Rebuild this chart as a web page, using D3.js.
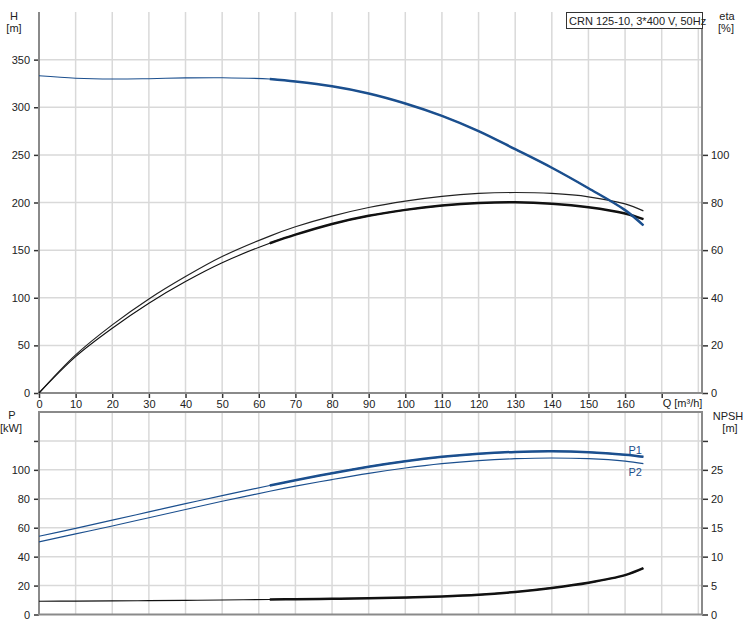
<!DOCTYPE html>
<html><head><meta charset="utf-8">
<script src="https://cdn.jsdelivr.net/npm/d3@7"></script>
<style>
body{margin:0;background:#fff;}
svg{display:block;font-family:"Liberation Sans",Arial,sans-serif;}
.tick text{font-size:11px;fill:#222;}
</style></head>
<body>
<script>
// ---- data ----
const title = "CRN 125-10, 3*400 V, 50Hz";
const qs      = [0, 10, 20, 30, 40, 50, 63, 70, 80, 90, 100, 110, 120, 130, 140, 150, 160, 165];
const head    = [333, 330.5, 329.6, 330, 330.8, 331, 329.6, 327, 322, 314.5, 304, 291, 275, 256, 236.5, 215, 192, 176];
const etaA    = [0, 16, 28.6, 39.5, 48.9, 57.3, 65.9, 69.8, 74.3, 77.9, 80.6, 82.6, 83.8, 84.2, 83.8, 82.4, 79.4, 76.5];
const etaB    = [0, 15.3, 27.2, 37.7, 46.8, 54.7, 62.9, 66.5, 71.0, 74.4, 76.9, 78.7, 79.8, 80.1, 79.5, 78.0, 75.4, 73.0];
const powerP1 = [54.1, 59.6, 65.2, 70.9, 76.6, 82.2, 89.2, 92.8, 97.7, 102.2, 106.0, 109.0, 111.1, 112.4, 112.8, 112.2, 110.4, 109];
const powerP2 = [50.2, 55.7, 61.2, 66.9, 72.6, 78.3, 85.2, 88.7, 93.3, 97.6, 101.3, 104.3, 106.4, 107.7, 108.2, 107.7, 106, 104.3];
const npsh    = [2.3, 2.32, 2.35, 2.4, 2.45, 2.5, 2.6, 2.65, 2.72, 2.8, 2.92, 3.1, 3.4, 3.9, 4.6, 5.5, 6.8, 8.0];
const qTicks   = [0, 10, 20, 30, 40, 50, 60, 70, 80, 90, 100, 110, 120, 130, 140, 150, 160, 170];
const qGrid    = [10, 20, 30, 40, 50, 60, 70, 80, 90, 100, 110, 120, 130, 140, 150, 160, 170, 180];
const hTicks   = [0, 50, 100, 150, 200, 250, 300, 350];
const etaTicks = [0, 20, 40, 60, 80, 100];
const pTicks   = [0, 20, 40, 60, 80, 100, 120];
const npshTicks= [0, 5, 10, 15, 20, 25, 30];
const qUnit = "Q [m³/h]";
const opStart = 63; // start of the bold (operating) part

// ---- layout ----
const W = 750, H = 628;
const svg = d3.select("body").append("svg").attr("width", W).attr("height", H);
const x = d3.scaleLinear().domain([0, 181]).range([39, 702]);
const yH = d3.scaleLinear().domain([0, 400]).range([393, 12]);
const yEta = d3.scaleLinear().domain([0, 160]).range([393, 12]);
const yP = d3.scaleLinear().domain([0, 140]).range([614.5, 412]);
const yN = d3.scaleLinear().domain([0, 35]).range([614.5, 412]);

const gridC = "#d9d9d9", axisC = "#8a8a8a";

function grid(yScale, hVals, top, bottom) {
  const g = svg.append("g");
  g.selectAll(".v").data(qGrid).join("line")
    .attr("x1", d => x(d)).attr("x2", d => x(d))
    .attr("y1", top).attr("y2", bottom)
    .attr("stroke", gridC).attr("stroke-width", 1.5);
  g.selectAll(".h").data(hVals).join("line")
    .attr("x1", x.range()[0]).attr("x2", x.range()[1])
    .attr("y1", d => yScale(d)).attr("y2", d => yScale(d))
    .attr("stroke", gridC).attr("stroke-width", 1.5);
}
grid(yH, [50, 100, 150, 200, 250, 300, 350], 12, 393);
grid(yP, [20, 40, 60, 80, 100, 120], 412, 614.5);

function styleAxis(g) {
  g.select(".domain").remove();
  g.selectAll(".tick line").attr("stroke", "#333").attr("stroke-width", 1.5);
}
// top plot axes
svg.append("g").attr("transform", "translate(39,0)")
  .call(d3.axisLeft(yH).tickValues(hTicks).tickSize(5).tickPadding(4).tickSizeOuter(0)).call(styleAxis);
svg.append("g").attr("transform", "translate(702,0)")
  .call(d3.axisRight(yEta).tickValues(etaTicks).tickSize(6).tickPadding(3).tickSizeOuter(0)).call(styleAxis);
svg.append("g").attr("transform", "translate(0,393)")
  .call(d3.axisBottom(x).tickValues(qTicks).tickSize(5).tickPadding(2).tickSizeOuter(0)
    .tickFormat(d => d === 170 ? "" : d)).call(styleAxis);
svg.append("text").attr("x", x(170) + 1).attr("y", 407).attr("font-size", 11).attr("fill", "#222").text(qUnit);

// bottom plot axes
svg.append("g").attr("transform", "translate(39,0)")
  .call(d3.axisLeft(yP).tickValues(pTicks).tickSize(5).tickPadding(4).tickSizeOuter(0)
    .tickFormat(d => d === 120 ? "" : d)).call(styleAxis);
svg.append("g").attr("transform", "translate(702,0)")
  .call(d3.axisRight(yN).tickValues(npshTicks).tickSize(6).tickPadding(3).tickSizeOuter(0)
    .tickFormat(d => d === 30 ? "" : d)).call(styleAxis);

// frames
const frame = (x1, y1, x2, y2) => svg.append("line").attr("x1", x1).attr("y1", y1).attr("x2", x2).attr("y2", y2)
  .attr("stroke", axisC).attr("stroke-width", 2);
frame(39, 12, 39, 394); frame(702, 12, 702, 394); frame(38, 393, 703, 393);
frame(39, 412, 39, 615); frame(702, 412, 702, 615); frame(38, 412, 703, 412); frame(38, 614.5, 703, 614.5);

// curves
function curve(vals, yScale, color) {
  const pts = qs.map((q, i) => [q, vals[i]]);
  const line = d3.line().x(d => x(d[0])).y(d => yScale(d[1])).curve(d3.curveCatmullRom.alpha(0.5));
  return {pts, line, color};
}
function drawThin(c, w) {
  svg.append("path").attr("d", c.line(c.pts)).attr("fill", "none")
    .attr("stroke", c.color).attr("stroke-width", w || 1.1);
}
function drawThick(c, w) {
  svg.append("path").attr("d", c.line(c.pts.filter(d => d[0] >= opStart))).attr("fill", "none")
    .attr("stroke", c.color).attr("stroke-width", w || 2.4).attr("stroke-linecap", "butt");
}
const blue = "#1b4f8e";
const cA = curve(etaA, yEta, "#222");
drawThin(cA, 1.2);
const cB = curve(etaB, yEta, "#111");
drawThin(cB, 1.1); drawThick(cB, 2.5);
const cH = curve(head, yH, blue);
drawThin(cH, 1.1); drawThick(cH, 2.5);

const cP2 = curve(powerP2, yP, blue);
drawThin(cP2, 1.2);
const cP1 = curve(powerP1, yP, blue);
drawThin(cP1, 1.2); drawThick(cP1, 2.5);
const cN = curve(npsh, yN, "#111");
drawThin(cN, 1.1); drawThick(cN, 2.5);

const last = qs.length - 1;
svg.append("text").attr("x", x(qs[last]) - 15).attr("y", yP(powerP1[last]) - 2.5)
  .attr("font-size", 11).attr("fill", blue).text("P1");
svg.append("text").attr("x", x(qs[last]) - 15).attr("y", yP(powerP2[last]) + 12.5)
  .attr("font-size", 11).attr("fill", blue).text("P2");

// unit labels
const lab = (t, cx, by) => svg.append("text").attr("x", cx).attr("y", by).attr("text-anchor", "middle")
  .attr("font-size", 11).attr("fill", "#222").text(t);
lab("H", 14, 20); lab("[m]", 14, 32);
lab("eta", 727, 20); lab("[%]", 726, 32);
lab("P", 12, 419); lab("[kW]", 11, 432);
lab("NPSH", 728, 420); lab("[m]", 730, 432);

// title box
svg.append("rect").attr("x", 566.5).attr("y", 12.5).attr("width", 136).attr("height", 16)
  .attr("fill", "#fff").attr("stroke", "#333").attr("stroke-width", 1);
svg.append("text").attr("x", 569).attr("y", 24.5).attr("font-size", 11).attr("fill", "#222").text(title);
</script>
</body></html>
